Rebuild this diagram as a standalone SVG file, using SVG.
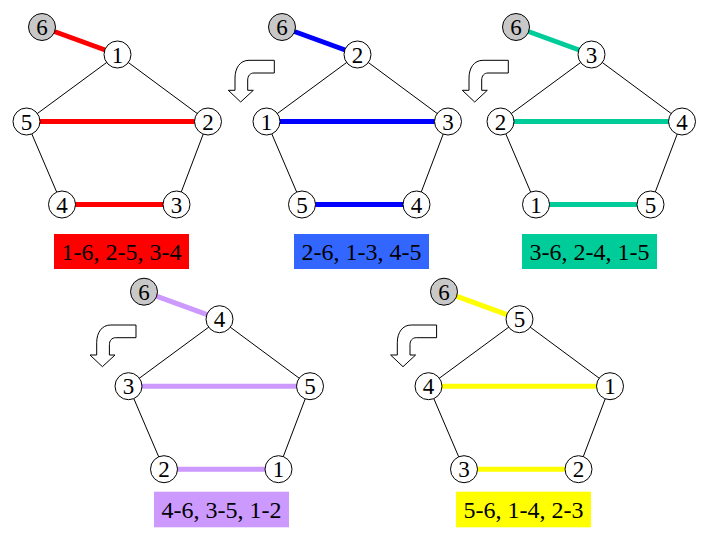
<svg xmlns="http://www.w3.org/2000/svg" width="720" height="540" viewBox="0 0 720 540">
<defs>
<style>
.thin{stroke:#000;stroke-width:1;fill:none}
.thick{stroke-width:5;fill:none}
.nd{fill:#fff;stroke:#000;stroke-width:1}
.nd6{fill:#c8c8c8;stroke:#000;stroke-width:1}
.nt{font-family:"Liberation Serif","Times New Roman",serif;font-size:23px;text-anchor:middle;fill:#000}
.lt{font-family:"Liberation Serif","Times New Roman",serif;font-size:24px;text-anchor:middle;fill:#000}
.arr{fill:#fff;stroke:#000;stroke-width:1;stroke-linejoin:miter}
</style>
<path id="arrow" d="M274.3,60.3 L249,60.3 C240,60.3 235,68 235,78 L235,90.3 L228.3,90.3 L240.7,102 L253.3,90.3 L247.7,90.3 L247.7,80 C247.7,76 250,73 254,73 L274.3,73 Z"/>
</defs>
<rect width="720" height="540" fill="#fff"/>

<!-- arrows -->
<g id="arrows">
<use href="#arrow" class="arr"/>
<use href="#arrow" class="arr" transform="translate(234,0)"/>
<use href="#arrow" class="arr" transform="translate(-138.3,264.7)"/>
<use href="#arrow" class="arr" transform="translate(162.3,264.7)"/>
</g>

<!-- Diagram 1 -->
<g id="diagram1">
<g id="d1-connectors">
<line class="thin" x1="117.5" y1="54.5" x2="26.5" y2="121.5"/>
<line class="thin" x1="117.5" y1="54.5" x2="208" y2="121.5"/>
<line class="thin" x1="26.5" y1="121.5" x2="62" y2="204.5"/>
<line class="thin" x1="208" y1="121.5" x2="176.5" y2="204.5"/>
<line class="thick" stroke="#ff0000" x1="42" y1="27" x2="117.5" y2="54.5"/>
<line class="thick" stroke="#ff0000" x1="26.5" y1="121.5" x2="208" y2="121.5"/>
<line class="thick" stroke="#ff0000" x1="62" y1="204.5" x2="176.5" y2="204.5"/>
</g>
<g id="d1-n6"><circle class="nd6" cx="42" cy="27" r="13.5"/><text class="nt" x="42" y="35">6</text></g>
<g id="d1-n1"><circle class="nd" cx="117.5" cy="54.5" r="13.5"/><text class="nt" x="117.5" y="62.5">1</text></g>
<g id="d1-n5"><circle class="nd" cx="26.5" cy="121.5" r="13.5"/><text class="nt" x="26.5" y="129.5">5</text></g>
<g id="d1-n2"><circle class="nd" cx="208" cy="121.5" r="13.5"/><text class="nt" x="208" y="129.5">2</text></g>
<g id="d1-n4"><circle class="nd" cx="62" cy="204.5" r="13.5"/><text class="nt" x="62" y="212.5">4</text></g>
<g id="d1-n3"><circle class="nd" cx="176.5" cy="204.5" r="13.5"/><text class="nt" x="176.5" y="212.5">3</text></g>
<g id="d1-label"><rect x="54" y="234" width="135" height="35" fill="#ff0000"/><text class="lt" x="121.5" y="260">1-6, 2-5, 3-4</text></g>
</g>

<!-- Diagram 2 -->
<g id="diagram2" transform="translate(240,0)">
<g id="d2-connectors">
<line class="thin" x1="117.5" y1="54.5" x2="26.5" y2="121.5"/>
<line class="thin" x1="117.5" y1="54.5" x2="208" y2="121.5"/>
<line class="thin" x1="26.5" y1="121.5" x2="62" y2="204.5"/>
<line class="thin" x1="208" y1="121.5" x2="176.5" y2="204.5"/>
<line class="thick" stroke="#0000ff" x1="42" y1="27" x2="117.5" y2="54.5"/>
<line class="thick" stroke="#0000ff" x1="26.5" y1="121.5" x2="208" y2="121.5"/>
<line class="thick" stroke="#0000ff" x1="62" y1="204.5" x2="176.5" y2="204.5"/>
</g>
<g id="d2-n6"><circle class="nd6" cx="42" cy="27" r="13.5"/><text class="nt" x="42" y="35">6</text></g>
<g id="d2-n2"><circle class="nd" cx="117.5" cy="54.5" r="13.5"/><text class="nt" x="117.5" y="62.5">2</text></g>
<g id="d2-n1"><circle class="nd" cx="26.5" cy="121.5" r="13.5"/><text class="nt" x="26.5" y="129.5">1</text></g>
<g id="d2-n3"><circle class="nd" cx="208" cy="121.5" r="13.5"/><text class="nt" x="208" y="129.5">3</text></g>
<g id="d2-n5"><circle class="nd" cx="62" cy="204.5" r="13.5"/><text class="nt" x="62" y="212.5">5</text></g>
<g id="d2-n4"><circle class="nd" cx="176.5" cy="204.5" r="13.5"/><text class="nt" x="176.5" y="212.5">4</text></g>
<g id="d2-label"><rect x="54" y="234" width="135" height="35" fill="#3366ff"/><text class="lt" x="121.5" y="260">2-6, 1-3, 4-5</text></g>
</g>

<!-- Diagram 3 -->
<g id="diagram3" transform="translate(474,0)">
<g id="d3-connectors">
<line class="thin" x1="117.5" y1="54.5" x2="26.5" y2="121.5"/>
<line class="thin" x1="117.5" y1="54.5" x2="208" y2="121.5"/>
<line class="thin" x1="26.5" y1="121.5" x2="62" y2="204.5"/>
<line class="thin" x1="208" y1="121.5" x2="176.5" y2="204.5"/>
<line class="thick" stroke="#00cc99" x1="42" y1="27" x2="117.5" y2="54.5"/>
<line class="thick" stroke="#00cc99" x1="26.5" y1="121.5" x2="208" y2="121.5"/>
<line class="thick" stroke="#00cc99" x1="62" y1="204.5" x2="176.5" y2="204.5"/>
</g>
<g id="d3-n6"><circle class="nd6" cx="42" cy="27" r="13.5"/><text class="nt" x="42" y="35">6</text></g>
<g id="d3-n3"><circle class="nd" cx="117.5" cy="54.5" r="13.5"/><text class="nt" x="117.5" y="62.5">3</text></g>
<g id="d3-n2"><circle class="nd" cx="26.5" cy="121.5" r="13.5"/><text class="nt" x="26.5" y="129.5">2</text></g>
<g id="d3-n4"><circle class="nd" cx="208" cy="121.5" r="13.5"/><text class="nt" x="208" y="129.5">4</text></g>
<g id="d3-n1"><circle class="nd" cx="62" cy="204.5" r="13.5"/><text class="nt" x="62" y="212.5">1</text></g>
<g id="d3-n5"><circle class="nd" cx="176.5" cy="204.5" r="13.5"/><text class="nt" x="176.5" y="212.5">5</text></g>
<g id="d3-label"><rect x="48" y="234" width="135" height="35" fill="#00cc99"/><text class="lt" x="115.5" y="260">3-6, 2-4, 1-5</text></g>
</g>

<!-- Diagram 4 -->
<g id="diagram4" transform="translate(102,264.7)">
<g id="d4-connectors">
<line class="thin" x1="117.5" y1="54.5" x2="26.5" y2="121.5"/>
<line class="thin" x1="117.5" y1="54.5" x2="208" y2="121.5"/>
<line class="thin" x1="26.5" y1="121.5" x2="62" y2="204.5"/>
<line class="thin" x1="208" y1="121.5" x2="176.5" y2="204.5"/>
<line class="thick" stroke="#cc99ff" x1="42" y1="27" x2="117.5" y2="54.5"/>
<line class="thick" stroke="#cc99ff" x1="26.5" y1="121.5" x2="208" y2="121.5"/>
<line class="thick" stroke="#cc99ff" x1="62" y1="204.5" x2="176.5" y2="204.5"/>
</g>
<g id="d4-n6"><circle class="nd6" cx="42" cy="27" r="13.5"/><text class="nt" x="42" y="35">6</text></g>
<g id="d4-n4"><circle class="nd" cx="117.5" cy="54.5" r="13.5"/><text class="nt" x="117.5" y="62.5">4</text></g>
<g id="d4-n3"><circle class="nd" cx="26.5" cy="121.5" r="13.5"/><text class="nt" x="26.5" y="129.5">3</text></g>
<g id="d4-n5"><circle class="nd" cx="208" cy="121.5" r="13.5"/><text class="nt" x="208" y="129.5">5</text></g>
<g id="d4-n2"><circle class="nd" cx="62" cy="204.5" r="13.5"/><text class="nt" x="62" y="212.5">2</text></g>
<g id="d4-n1"><circle class="nd" cx="176.5" cy="204.5" r="13.5"/><text class="nt" x="176.5" y="212.5">1</text></g>
<g id="d4-label"><rect x="52" y="227" width="135" height="35.6" fill="#cc99ff"/><text class="lt" x="119.5" y="253.3">4-6, 3-5, 1-2</text></g>
</g>

<!-- Diagram 5 -->
<g id="diagram5" transform="translate(402,264.7)">
<g id="d5-connectors">
<line class="thin" x1="117.5" y1="54.5" x2="26.5" y2="121.5"/>
<line class="thin" x1="117.5" y1="54.5" x2="208" y2="121.5"/>
<line class="thin" x1="26.5" y1="121.5" x2="62" y2="204.5"/>
<line class="thin" x1="208" y1="121.5" x2="176.5" y2="204.5"/>
<line class="thick" stroke="#ffff00" x1="42" y1="27" x2="117.5" y2="54.5"/>
<line class="thick" stroke="#ffff00" x1="26.5" y1="121.5" x2="208" y2="121.5"/>
<line class="thick" stroke="#ffff00" x1="62" y1="204.5" x2="176.5" y2="204.5"/>
</g>
<g id="d5-n6"><circle class="nd6" cx="42" cy="27" r="13.5"/><text class="nt" x="42" y="35">6</text></g>
<g id="d5-n5"><circle class="nd" cx="117.5" cy="54.5" r="13.5"/><text class="nt" x="117.5" y="62.5">5</text></g>
<g id="d5-n4"><circle class="nd" cx="26.5" cy="121.5" r="13.5"/><text class="nt" x="26.5" y="129.5">4</text></g>
<g id="d5-n1"><circle class="nd" cx="208" cy="121.5" r="13.5"/><text class="nt" x="208" y="129.5">1</text></g>
<g id="d5-n3"><circle class="nd" cx="62" cy="204.5" r="13.5"/><text class="nt" x="62" y="212.5">3</text></g>
<g id="d5-n2"><circle class="nd" cx="176.5" cy="204.5" r="13.5"/><text class="nt" x="176.5" y="212.5">2</text></g>
<g id="d5-label"><rect x="54" y="227" width="135" height="35.6" fill="#ffff00"/><text class="lt" x="121.5" y="253.3">5-6, 1-4, 2-3</text></g>
</g>
</svg>
